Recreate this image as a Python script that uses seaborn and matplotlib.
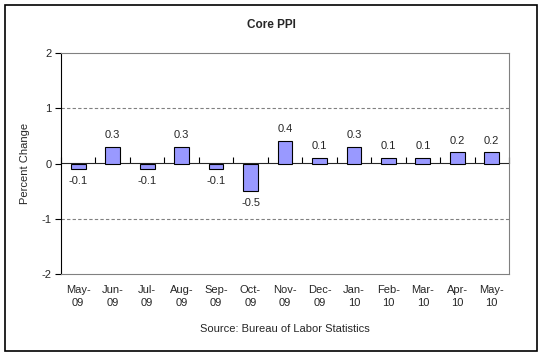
import matplotlib
matplotlib.use("Agg")
import matplotlib.pyplot as plt
import seaborn as sns
import pandas as pd
import numpy as np
from matplotlib.patches import Rectangle

# data
months = ["May-\n09", "Jun-\n09", "Jul-\n09", "Aug-\n09", "Sep-\n09", "Oct-\n09", "Nov-\n09",
          "Dec-\n09", "Jan-\n10", "Feb-\n10", "Mar-\n10", "Apr-\n10", "May-\n10"]
ppi_change = [-0.1, 0.3, -0.1, 0.3, -0.1, -0.5, 0.4, 0.1, 0.3, 0.1, 0.1, 0.2, 0.2]
y_ticks = [-2, -1, 0, 1, 2]

df = pd.DataFrame({"month": months, "change": ppi_change})

sns.set_style("white")
plt.rcParams["font.family"] = ["Liberation Sans", "DejaVu Sans"]
fs = 8

fig = plt.figure(figsize=(5.42, 3.57), dpi=100)
ax = fig.add_axes([61 / 542, 1 - 274 / 357, 448 / 542, 221 / 357])

sns.barplot(data=df, x="month", y="change", color="#9999FF", edgecolor="black",
            linewidth=0.8, width=0.43, saturation=1, ax=ax)

ax.set_ylim(-2, 2)
ax.set_xlim(-0.5, len(months) - 0.5)
ax.set_yticks(y_ticks)
ax.set_yticklabels([str(t) for t in y_ticks], fontsize=fs)
ax.tick_params(axis="y", direction="out", length=4, width=0.8, color="black", pad=3, left=True)
ax.tick_params(axis="x", length=0, pad=8, labelsize=fs)
for lbl in ax.get_xticklabels():
    lbl.set_linespacing(1.3)

# dashed gridlines at +/-1
for g in [-1, 1]:
    ax.axhline(g, color="#808080", linestyle=(0, (3, 2)), linewidth=0.8, zorder=0)

for side in ["top", "right", "bottom"]:
    ax.spines[side].set_color("#808080")
    ax.spines[side].set_linewidth(0.8)
ax.spines["left"].set_color("black")
ax.spines["left"].set_linewidth(0.8)

# zero line with ticks at category boundaries
sec = ax.secondary_xaxis(0.5)
sec.set_xticks(np.arange(-0.5, len(months), 1.0))
sec.set_xticklabels([])
sec.tick_params(direction="out", length=4, width=0.8, color="black")
sec.spines["bottom"].set_color("black")
sec.spines["bottom"].set_linewidth(0.8)

ax.bar_label(ax.containers[0], fmt="%.1f", padding=5, fontsize=fs)

ax.set_xlabel("")
ax.set_ylabel("Percent Change", fontsize=fs, labelpad=8)

fig.text(0.5, 1 - 25 / 357, "Core PPI", ha="center", va="center", fontsize=8.5, fontweight="bold")
fig.text(285 / 542, 1 - 329 / 357, "Source: Bureau of Labor Statistics", ha="center", va="center", fontsize=fs)

fig.patches.append(Rectangle((5 / 542, 6 / 357), 532 / 542, 346 / 357, transform=fig.transFigure,
                             fill=False, edgecolor="black", linewidth=1.2))

fig.savefig("out.png", dpi=100)
